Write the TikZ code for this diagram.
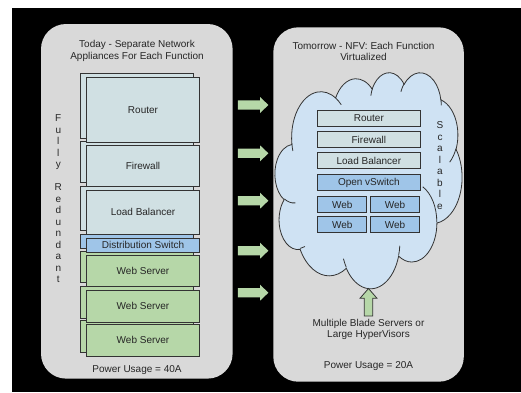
\documentclass[tikz,border=0pt]{standalone}
\usepackage{fontspec}
\setmainfont{Liberation Sans}
\definecolor{panelgray}{HTML}{D9D9D9}
\definecolor{boxgray}{HTML}{D0E0E3}
\definecolor{boxblue}{HTML}{9FC5E8}
\definecolor{boxgreen}{HTML}{B6D7A8}
\definecolor{cloudfill}{HTML}{CFE2F3}
\definecolor{ink}{HTML}{262626}
\definecolor{edge}{HTML}{333333}
\newcommand\csx{0.432870}
\newcommand\csy{0.5}
\newcommand\cldmove[2]{%
  \pgfmathsetmacro\cpx{275+(#1)*\csx}%
  \pgfmathsetmacro\cpy{0-(72+(#2)*\csy)}%
  \pgfpathmoveto{\pgfpoint{\cpx pt}{\cpy pt}}}
\newcommand\cldarc[4]{%
  \pgfmathsetmacro\ooS{atan2((#1)*sin(#3),(#2)*cos(#3))}%
  \pgfmathsetmacro\ooE{atan2((#1)*sin((#3)+(#4)),(#2)*cos((#3)+(#4)))}%
  \pgfmathsetmacro\ooD{mod((\ooE)-(\ooS)+720,360)}%
  \pgfmathsetmacro\ooA{0-(\ooS)}%
  \pgfmathsetmacro\ooB{0-(\ooS)-(\ooD)}%
  \pgfmathsetmacro\ooRx{(#1)*\csx}%
  \pgfmathsetmacro\ooRy{(#2)*\csy}%
  \pgfpatharc{\ooA}{\ooB}{\ooRx pt and \ooRy pt}}
\tikzset{
  txt/.style={font=\fontsize{10}{12}\selectfont, text=ink, inner sep=0pt},
  fbox/.style={draw=edge, line width=0.8pt, inner sep=0pt, text=ink,
    font=\fontsize{10}{12}\selectfont, text height=7.2pt, text depth=0pt},
  lbox/.style={fbox, minimum width=112.6pt},
  rbox/.style={fbox, minimum width=102.3pt, minimum height=15.8pt},
  wbox/.style={fbox, minimum width=48.8pt, minimum height=15.8pt, fill=boxblue},
  panel/.style={fill=panelgray, rounded corners=25pt},
  garrow/.style={fill=boxgreen},
}
\begin{document}
\begin{tikzpicture}[x=1pt,y=-1pt]
\useasboundingbox (0,0) rectangle (521,392);
\fill[white] (0,0) rectangle (521,392);
\fill[black] (12,8) rectangle (521,392);
% panels
\fill[panel] (41,24) rectangle (232.6,378.6);
\fill[panel] (273.3,27.3) rectangle (463.8,381.7);
% titles
\node[txt, anchor=base] (lt1) at (137,47.9) {Today - Separate Network};
\node[txt, anchor=base] (lt2) at (137,59.6) {Appliances For Each Function};
\node[txt, anchor=base] (rt1) at (363.5,49) {Tomorrow - NFV: Each Function};
\node[txt, anchor=base] (rt2) at (363.5,60.3) {Virtualized};
% Fully Redundant
\foreach \c [count=\i from 0] in {F,u,l,l,y}
  \node[txt, anchor=base] (fa\i) at (58.3,121.7+11.5*\i) {\c};
\foreach \c [count=\i from 0] in {R,e,d,u,n,d,a,n,t}
  \node[txt, anchor=base] (fb\i) at (58.3,190.7+11.5*\i) {\c};
% left back boxes
\node[lbox, fill=boxgray, minimum height=65pt] (routerB) at (137,105.8) {};
\node[lbox, fill=boxgray, minimum height=41pt] (firewallB) at (137,161.5) {};
\node[lbox, fill=boxgray, minimum height=44pt] (lbB) at (137,208) {};
\node[lbox, fill=boxblue, minimum height=14pt] (dswB) at (137,241.3) {};
\node[lbox, fill=boxgreen, minimum height=31pt] (web1B) at (137,267.2) {};
\node[lbox, fill=boxgreen, minimum height=32pt] (web2B) at (137,302) {};
\node[lbox, fill=boxgreen, minimum height=32pt] (web3B) at (137,336) {};
% left front boxes
\node[lbox, fill=boxgray, minimum height=65pt] (router) at (143,109.8) {Router};
\node[lbox, fill=boxgray, minimum height=41pt] (firewall) at (143,165.5) {Firewall};
\node[lbox, fill=boxgray, minimum height=44pt] (lb) at (143,212) {Load Balancer};
\node[lbox, fill=boxblue, minimum height=14pt] (dsw) at (143,245.3) {Distribution Switch};
\node[lbox, fill=boxgreen, minimum height=31pt] (web1) at (143,271.2) {Web Server};
\node[lbox, fill=boxgreen, minimum height=32pt] (web2) at (143,306) {Web Server};
\node[lbox, fill=boxgreen, minimum height=32pt] (web3) at (143,340) {Web Server};
\node[txt, anchor=base] (lpower) at (137,372.6) {Power Usage = 40A};
% green arrows between panels
\foreach \c in {105,153.3,200.7,250.7,292.7}
  \fill[garrow] (237.8,\c-4.6) -- (260,\c-4.6) -- (260,\c-8) -- (268.4,\c)
    -- (260,\c+8) -- (260,\c+4.6) -- (237.8,\c+4.6) -- cycle;
% cloud
\begin{pgfscope}
\pgfsetfillcolor{cloudfill}\pgfsetstrokecolor{edge}\pgfsetlinewidth{0.8pt}
\pgfsetroundjoin
\cldmove{39.00}{143.70}
\cldarc{67.53}{91.90}{-190.4875}{123.7805}
\cldarc{53.33}{72.67}{-144.1024}{89.9452}
\cldarc{43.65}{59.45}{-145.8079}{99.7230}
\cldarc{48.57}{65.95}{-130.9861}{117.2417}
\cldarc{53.33}{72.73}{-78.7089}{109.0269}
\cldarc{67.75}{92.20}{-46.2673}{130.2690}
\cldarc{57.85}{78.67}{0.6250}{114.0333}
\cldarc{67.52}{92.15}{22.4516}{115.1726}
\cldarc{77.20}{105.43}{66.2426}{75.7110}
\cldarc{43.60}{59.18}{-274.9421}{146.7356}
\cldarc{43.45}{59.45}{-246.8285}{152.5189}
\pgfpathclose
\pgfusepath{fill,stroke}
\end{pgfscope}
\begin{pgfscope}
\pgfsetstrokecolor{edge}\pgfsetlinewidth{0.8pt}
\cldmove{46.93}{261.77}\cldarc{43.45}{59.45}{86.7420}{26.4295}
\cldmove{69.28}{348.99}\cldarc{43.60}{59.18}{73.6105}{11.4475}
\cldmove{164.78}{390.90}\cldarc{67.52}{92.15}{137.6242}{14.0811}
\cldmove{288.27}{347.51}\cldarc{67.52}{92.15}{6.4533}{15.9984}
\cldmove{341.29}{229.54}\cldarc{57.85}{78.67}{-70.2924}{70.9174}
\cldmove{417.98}{153.54}\cldarc{53.33}{72.73}{30.3180}{27.7515}
\cldmove{383.24}{54.26}\cldarc{48.57}{65.95}{-13.7443}{14.8589}
\cldmove{290.78}{39.52}\cldarc{48.57}{65.95}{-149.1815}{18.1954}
\cldmove{221.41}{47.20}\cldarc{43.65}{59.45}{-163.4943}{17.6864}
\cldmove{140.00}{51.92}\cldarc{67.53}{91.90}{-66.7070}{12.3194}
\cldmove{41.27}{157.89}\cldarc{67.53}{91.90}{157.6544}{11.8582}
\pgfusepath{stroke}
\end{pgfscope}
% right boxes
\node[rbox, fill=boxgray] (rrouter) at (368.85,118) {Router};
\node[rbox, fill=boxgray] (rfirewall) at (368.85,139.5) {Firewall};
\node[rbox, fill=boxgray] (rlb) at (368.85,160.5) {Load Balancer};
\node[rbox, fill=boxblue] (ovs) at (368.85,182) {Open vSwitch};
\node[wbox] (w11) at (342.2,204.5) {Web};
\node[wbox] (w12) at (395,204.5) {Web};
\node[wbox] (w21) at (342.2,224.7) {Web};
\node[wbox] (w22) at (395,224.7) {Web};
% Scalable
\foreach \c [count=\i from 0] in {S,c,a,l,a,b,l,e}
  \node[txt, anchor=base] (sc\i) at (440,128.6+11.5*\i) {\c};
% up arrow
\draw[draw=edge, line width=0.8pt, fill=boxgreen, line join=miter]
  (364.3,316) -- (364.3,298.3) -- (360,298.3) -- (368.5,288.5) -- (377,298.3)
  -- (372.7,298.3) -- (372.7,316) -- cycle;
\node[txt, anchor=base] (blade1) at (368.5,326.2) {Multiple Blade Servers or};
\node[txt, anchor=base] (blade2) at (368.5,337.6) {Large HyperVisors};
\node[txt, anchor=base] (rpower) at (368.5,368.4) {Power Usage = 20A};
\end{tikzpicture}
\end{document}
